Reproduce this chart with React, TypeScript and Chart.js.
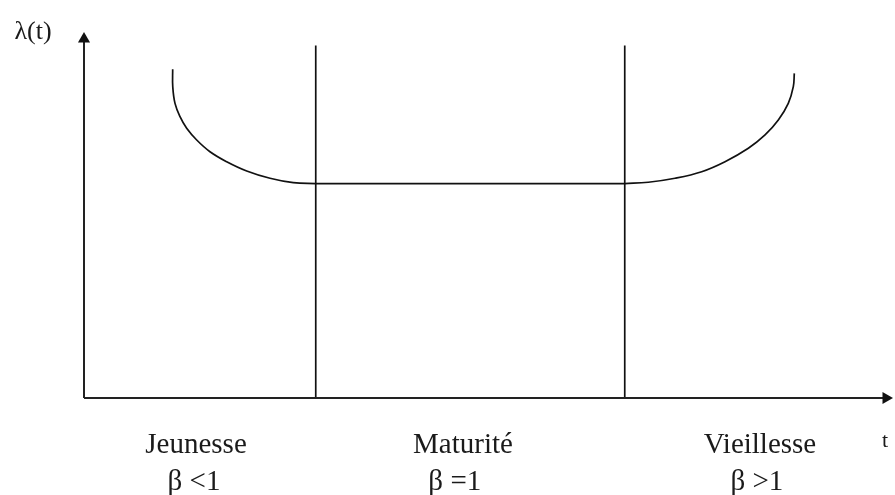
import React, { useEffect, useRef } from "react";
import { Chart, registerables } from "chart.js";

Chart.register(...registerables);

// Axis ranges (t horizontally, λ vertically)
const T_MIN = -1.0874;
const T_MAX = 10.4984;
const L_MIN = -0.9023;
const L_MAX = 3.7023;

// Axes ends (arrow centres)
const T_AXIS_END = 10.382;
const L_AXIS_END = 3.34;

// Phase boundaries and plateau level
const phaseBoundaries = [3, 7];
const boundaryTop = 3.28;
const plateau = 1.995;

// Early failures (Jeunesse) curve
const earlyT = [1.148, 1.149, 1.178, 1.243, 1.329, 1.459, 1.631, 1.847, 2.106, 2.408, 2.709, 3.0];
const earlyL = [3.058, 2.896, 2.741, 2.617, 2.509, 2.4, 2.291, 2.198, 2.112, 2.044, 2.003, 1.995];

// Wear-out (Vieillesse) curve
const wearT = [7.0, 7.305, 7.651, 7.996, 8.298, 8.6, 8.816, 8.988, 9.117, 9.182, 9.195];
const wearL = [1.995, 2.007, 2.044, 2.105, 2.198, 2.323, 2.447, 2.586, 2.741, 2.896, 3.02];

// Labels
const phaseLabels = ["Jeunesse", "Maturité", "Vieillesse"];
const phaseCenters = [1.45, 4.906, 8.75];
const betaLabels = ["β <1", "β =1", "β >1"];
const betaCenters = [1.424, 4.8, 8.71];
const phaseLabelL = -0.512;
const betaLabelL = -0.855;
const yAxisTitle = "λ(t)";
const xAxisTitle = "t";

const zip = (xs: number[], ys: number[]) => xs.map((x, i) => ({ x, y: ys[i] }));

const labelsPlugin = {
  id: "labelsPlugin",
  afterDatasetsDraw(chart: any) {
    const ctx = chart.ctx;
    const xs = chart.scales.x;
    const ys = chart.scales.y;
    ctx.save();
    ctx.fillStyle = "#1a1a1a";
    ctx.textAlign = "center";
    ctx.textBaseline = "alphabetic";
    ctx.font = '29px "Liberation Serif", "Times New Roman", serif';
    phaseLabels.forEach((lab, i) => {
      ctx.fillText(lab, xs.getPixelForValue(phaseCenters[i]), ys.getPixelForValue(phaseLabelL));
    });
    betaLabels.forEach((lab, i) => {
      ctx.fillText(lab, xs.getPixelForValue(betaCenters[i]), ys.getPixelForValue(betaLabelL));
    });
    // axis titles
    ctx.textBaseline = "middle";
    ctx.font = '26px "Liberation Serif", "Times New Roman", serif';
    ctx.fillText(yAxisTitle, xs.getPixelForValue(-0.66), ys.getPixelForValue(3.40));
    ctx.font = '22px "Liberation Serif", "Times New Roman", serif';
    ctx.fillText(xAxisTitle, xs.getPixelForValue(10.37), ys.getPixelForValue(-0.4));
    ctx.restore();
  },
};

export default function App() {
  const ref = useRef<HTMLCanvasElement | null>(null);

  useEffect(() => {
    if (!ref.current) return;
    const lineDs = (data: any[], extra: any = {}) => ({
      data,
      showLine: true,
      borderColor: "#111",
      backgroundColor: "#111",
      borderWidth: 1.7,
      pointRadius: 0,
      ...extra,
    });
    const chart = new Chart(ref.current, {
      type: "scatter",
      data: {
        datasets: [
          // y axis with arrow
          lineDs(
            [
              { x: 0, y: 0 },
              { x: 0, y: L_AXIS_END },
            ],
            { borderWidth: 2, borderColor: "#222", pointRadius: [0, 7], pointStyle: "triangle", pointBorderWidth: 0 }
          ),
          // x axis with arrow
          lineDs(
            [
              { x: 0, y: 0 },
              { x: T_AXIS_END, y: 0 },
            ],
            {
              borderWidth: 2,
              borderColor: "#222",
              pointRadius: [0, 7],
              pointStyle: "triangle",
              pointRotation: 90,
              pointBorderWidth: 0,
            }
          ),
          // phase boundaries
          ...phaseBoundaries.map((b) =>
            lineDs([
              { x: b, y: 0 },
              { x: b, y: boundaryTop },
            ])
          ),
          // plateau
          lineDs([
            { x: phaseBoundaries[0], y: plateau },
            { x: phaseBoundaries[1], y: plateau },
          ]),
          // curves
          lineDs(zip(earlyT, earlyL), { tension: 0.4 }),
          lineDs(zip(wearT, wearL), { tension: 0.4 }),
        ],
      },
      options: {
        animation: false,
        responsive: false,
        events: [],
        layout: { padding: 0, autoPadding: false },
        plugins: { legend: { display: false }, tooltip: { enabled: false } },
        scales: {
          x: { type: "linear", min: T_MIN, max: T_MAX, display: false },
          y: { type: "linear", min: L_MIN, max: L_MAX, display: false },
        },
      },
      plugins: [labelsPlugin],
    });
    return () => chart.destroy();
  }, []);

  return (
    <div style={{ position: "absolute", left: 0, top: 0, width: 895, height: 495, background: "#fff" }}>
      <canvas ref={ref} width={895} height={495} />
    </div>
  );
}
